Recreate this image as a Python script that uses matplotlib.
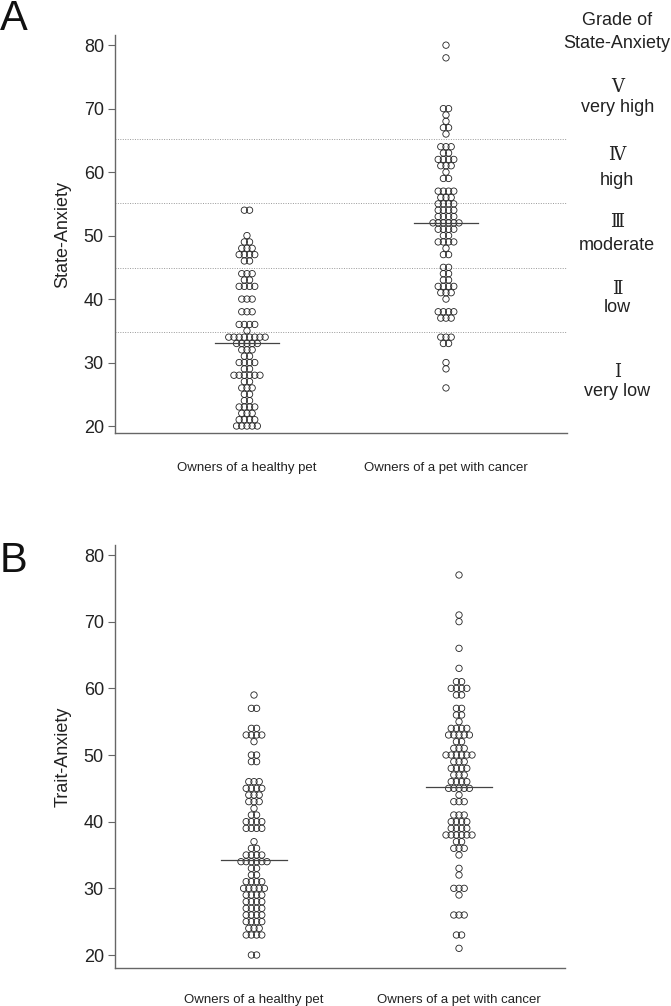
import numpy as np
import matplotlib.pyplot as plt
import matplotlib.transforms as mtransforms

plt.rcParams['font.family'] = ['Liberation Sans', 'DejaVu Sans']

groups = ['Owners of a healthy pet', 'Owners of a pet with cancer']

# State-Anxiety: score and number of owners with that score
sa_healthy_vals = [54, 50, 49, 48, 47, 46, 44, 43, 42, 40, 38, 36, 35, 34, 33, 32, 31, 30, 29, 28, 27, 26, 25, 24, 23, 22, 21, 20]
sa_healthy_n = [2, 1, 2, 3, 4, 2, 3, 2, 4, 3, 3, 4, 1, 8, 5, 3, 2, 4, 2, 6, 2, 3, 2, 2, 4, 3, 4, 5]
sa_cancer_vals = [80, 78, 70, 69, 68, 67, 66, 64, 63, 62, 61, 60, 59, 57, 56, 55, 54, 53, 52, 51, 50, 49, 48, 47, 45, 44, 43, 42, 41, 40, 38, 37, 34, 33, 30, 29, 26]
sa_cancer_n = [1, 1, 2, 1, 1, 2, 1, 3, 2, 4, 3, 1, 2, 4, 3, 4, 4, 4, 6, 4, 2, 4, 1, 2, 2, 2, 2, 4, 3, 1, 4, 3, 3, 2, 1, 1, 1]
sa_medians = [33, 52]

# Trait-Anxiety
ta_healthy_vals = [59, 57, 54, 53, 52, 50, 49, 46, 45, 44, 43, 42, 41, 40, 39, 37, 36, 35, 34, 33, 32, 31, 30, 29, 28, 27, 26, 25, 24, 23, 20]
ta_healthy_n = [1, 2, 2, 4, 1, 2, 2, 3, 4, 3, 3, 1, 2, 4, 4, 1, 2, 4, 6, 2, 2, 4, 5, 4, 4, 4, 4, 4, 3, 4, 2]
ta_cancer_vals = [77, 71, 70, 66, 63, 61, 60, 59, 57, 56, 55, 54, 53, 52, 51, 50, 49, 48, 47, 46, 45, 44, 43, 41, 40, 39, 38, 37, 36, 35, 33, 32, 30, 29, 26, 23, 21]
ta_cancer_n = [1, 1, 1, 1, 1, 2, 4, 2, 2, 2, 1, 4, 5, 2, 3, 6, 3, 4, 3, 4, 5, 1, 3, 3, 4, 4, 6, 2, 3, 1, 1, 1, 3, 1, 3, 2, 1]
ta_medians = [34.2, 45.2]

# grade boundaries and labels
grade_cuts = [34.8, 44.9, 55.1, 65.2]
grade_roman = ['Ⅰ', 'Ⅱ', 'Ⅲ', 'Ⅳ', 'Ⅴ']
grade_names = ['very low', 'low', 'moderate', 'high', 'very high']
grade_roman_y = [28.5, 41.6, 52.1, 62.7, 73.4]
grade_name_y = [25.5, 38.7, 48.5, 58.7, 70.1]

W, H = 671, 1006
fig = plt.figure(figsize=(W / 100, H / 100), dpi=100)


def px_axes(left, right, top, bottom):
    return fig.add_axes([left / W, 1 - bottom / H, (right - left) / W, (bottom - top) / H])


def dot_panel(ax, data, medians, xlim, ylim, ylabel, xpad):
    ax.set_xlim(*xlim)
    ax.set_ylim(*ylim)
    # horizontal step between neighbouring circles, ~5 px
    bb = ax.get_window_extent()
    dx = 5.2 * (xlim[1] - xlim[0]) / bb.width
    for i, (vals, counts) in enumerate(data):
        xs, ys = [], []
        for v, n in zip(vals, counts):
            off = (np.arange(n) - (n - 1) / 2) * dx
            xs.extend(i + off)
            ys.extend([v] * n)
        ax.scatter(xs, ys, s=21, facecolors='none', edgecolors='#222222',
                   linewidths=0.6, zorder=3)
        ax.plot([i - 0.16, i + 0.16], [medians[i]] * 2, color='#444444', lw=0.9, zorder=4)
    for s in ['top', 'right']:
        ax.spines[s].set_visible(False)
    for s in ['left', 'bottom']:
        ax.spines[s].set_color('#666666')
        ax.spines[s].set_linewidth(1.0)
    ax.set_yticks([20, 30, 40, 50, 60, 70, 80])
    ax.set_xticks([0, 1])
    ax.set_xticklabels(groups, fontsize=9.5, color='#222222')
    ax.tick_params(axis='x', length=0, pad=xpad)
    ax.tick_params(axis='y', length=5, width=0.8, color='#666666', labelsize=13,
                   labelcolor='#222222', pad=3)
    ax.set_ylabel(ylabel, fontsize=13, color='#222222', labelpad=9)


# Panel A
axA = px_axes(115, 567, 35, 433)
dot_panel(axA, [(sa_healthy_vals, sa_healthy_n), (sa_cancer_vals, sa_cancer_n)],
          sa_medians, (-0.663, 1.608), (18.9, 81.6), 'State-Anxiety', 21)
for c in grade_cuts:
    axA.axhline(c, color='#999999', lw=0.7, ls=(0, (1, 1.5)), zorder=1)

trans = mtransforms.blended_transform_factory(axA.transAxes, axA.transData)
xr = 1.111
axA.text(xr, 83.9, 'Grade of', transform=trans, ha='center', va='center',
         fontsize=13, color='#222222')
axA.text(xr, 80.3, 'State-Anxiety', transform=trans, ha='center', va='center',
         fontsize=13, color='#222222')
for r, nm, yr, yn in zip(grade_roman, grade_names, grade_roman_y, grade_name_y):
    axA.text(xr, yr, r, transform=trans, ha='center', va='center', fontsize=13,
             color='#222222', family=['DejaVu Serif', 'Noto Sans CJK JP'])
    axA.text(xr, yn, nm, transform=trans, ha='center', va='center', fontsize=13,
             color='#222222')

# Panel B
axB = px_axes(115, 565, 545, 968)
dot_panel(axB, [(ta_healthy_vals, ta_healthy_n), (ta_cancer_vals, ta_cancer_n)],
          ta_medians, (-0.678, 1.517), (18.05, 81.5), 'Trait-Anxiety', 19)

fig.text(0.0, 1 - 30 / H, 'A', fontsize=30, color='#111111')
fig.text(0.0, 1 - 572 / H, 'B', fontsize=30, color='#111111')

fig.savefig('out.png', dpi=100)
